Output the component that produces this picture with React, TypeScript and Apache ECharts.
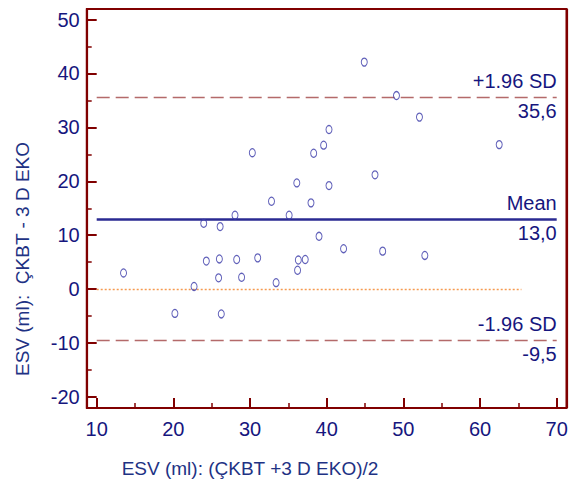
import React, { useEffect, useRef } from "react";
import * as echarts from "echarts";

// Bland-Altman data: average of the two methods (x) and their difference (y)
const averages = [
  13.5, 20.2, 22.7, 23.96, 24.3, 26.0, 25.9, 26.1, 26.25, 28.04, 28.26, 28.9,
  30.3, 31.0, 32.8, 33.4, 35.1, 36.1, 36.3, 36.2, 37.2, 37.95, 38.3, 39.0,
  39.6, 40.3, 40.3, 42.2, 44.9, 46.3, 47.3, 49.1, 52.1, 52.8, 62.5,
];
const differences = [
  3.0, -4.5, 0.5, 12.2, 5.2, 5.6, 2.1, 11.6, -4.6, 13.7, 5.5, 2.2,
  25.3, 5.8, 16.3, 1.2, 13.7, 19.7, 5.4, 3.5, 5.5, 16.0, 25.2, 9.8,
  26.7, 19.2, 29.6, 7.5, 42.1, 21.2, 7.05, 35.9, 31.9, 6.25, 26.8,
];
const meanDiff = 13.0;
const upperLimit = 35.6;
const lowerLimit = -9.5;
const lineLabels = ["+1.96 SD", "Mean", "-1.96 SD"];
const zeroLineSpan = [10, 65.4];
const limitLineSpan = [10, 70];
const xTicks = [10, 20, 30, 40, 50, 60, 70];
const xMinorTicks = [15, 25, 35, 45, 55, 65];
const yTicks = [-20, -10, 0, 10, 20, 30, 40, 50];
const yMinorTicks = [-15, -5, 5, 15, 25, 35, 45];
// axis extents of the framed plot box (frame sits a little outside the tick range)
const xExtent = [8.696, 71.304];
const yExtent = [-22.04, 51.95];
const xTitle = "ESV (ml): (ÇKBT +3 D EKO)/2";
const yTitle = "ESV (ml):  ÇKBT - 3 D EKO";

const AXIS = "#800000";
const NAVY = "#16167e";
const TITLE = "#1e3284";
const FONT = "Arial, 'Liberation Sans', Helvetica, sans-serif";
const CLEAR = "rgba(0,0,0,0)";

const GRID = { left: 86.7, right: 12.3, top: 9, bottom: 74 };

const fmt = (v: number) => v.toFixed(1).replace(".", ",");

export default function App() {
  const ref = useRef<HTMLDivElement>(null);
  useEffect(() => {
    if (!ref.current) return;
    const chart = echarts.init(ref.current, undefined, { renderer: "svg" });
    const points = averages.map((a, i) => [a, differences[i]]);
    const label = { color: NAVY, fontSize: 20, fontFamily: FONT };
    const base = (ext: number[], position: string) => ({
      type: "value",
      position,
      min: ext[0],
      max: ext[1],
      splitLine: { show: false },
      minorSplitLine: { show: false },
      minorTick: { show: false },
    });
    const tickAxis = (ext: number[], position: string, values: number[], len: number, w: number, lbl: any) => ({
      ...base(ext, position),
      axisLine: { show: false, onZero: false },
      axisTick: { show: true, inside: true, length: len, customValues: values, lineStyle: { color: AXIS, width: w } },
      axisLabel: lbl ? { ...lbl, customValues: values } : { show: false },
    });
    const sdLine = { color: "#b46a6a", width: 1.3, type: [13, 6] as any };
    const zeroLine = { color: "#f59a50", width: 1.4, type: [2, 2] as any };
    const meanLine = { color: "#2a2a92", width: 2.5, type: "solid" };
    const frameLine = { color: AXIS, width: 2.2, type: "solid" };
    const hidden = { color: CLEAR, width: 1 };
    const pair = (v: number, style: any, text: string, position: string, dist: number) => [
      { coord: [limitLineSpan[0], v], lineStyle: style, label: { ...label, position, formatter: text, distance: [0, dist] } },
      { coord: [limitLineSpan[1], v] },
    ];
    const e = 0.02;
    const x0 = xExtent[0] + e, x1 = xExtent[1] - e, y0 = yExtent[0] + e, y1 = yExtent[1] - e;
    const seg = (a: number[], b: number[]) => [
      { coord: a, lineStyle: frameLine, label: { show: false } },
      { coord: b },
    ];
    chart.setOption({
      animation: false,
      backgroundColor: "#ffffff",
      grid: [{ ...GRID, containLabel: false }],
      xAxis: [
        tickAxis(xExtent, "bottom", xTicks, 10, 2, { ...label, margin: 11 }),
        tickAxis(xExtent, "bottom", xMinorTicks, 5, 1.5, null),
      ],
      yAxis: [
        tickAxis(yExtent, "left", yTicks, 10, 2, { ...label, margin: 7 }),
        tickAxis(yExtent, "left", yMinorTicks, 5, 1.5, null),
      ],
      series: [
        {
          type: "scatter",
          xAxisIndex: 0,
          yAxisIndex: 0,
          data: points,
          symbol: "circle",
          symbolSize: [6, 8],
          z: 5,
          itemStyle: { color: CLEAR, borderColor: "#3838a8", borderWidth: 1.1 },
          markArea: {
            silent: true,
            itemStyle: { color: CLEAR, borderColor: AXIS, borderWidth: 2 },
            label: { show: false },
            data: [[{ coord: [x0, y0] }, { coord: [x1, y1] }]],
          },
          markLine: {
            silent: true,
            symbol: ["none", "none"],
            animation: false,
            data: [
              seg([x0, y0], [x0, y1]),
              seg([x0, y0], [x1, y0]),
              seg([x1, y0], [x1, y1]),
              seg([x0, y1], [x1, y1]),
              pair(upperLimit, sdLine, lineLabels[0], "insideEndTop", 6),
              pair(upperLimit, hidden, fmt(upperLimit), "insideEndBottom", 4),
              pair(meanDiff, meanLine, lineLabels[1], "insideEndTop", 6),
              pair(meanDiff, hidden, fmt(meanDiff), "insideEndBottom", 4),
              pair(lowerLimit, sdLine, lineLabels[2], "insideEndTop", 6),
              pair(lowerLimit, hidden, fmt(lowerLimit), "insideEndBottom", 4),
              [
                { coord: [zeroLineSpan[0], 0], lineStyle: zeroLine, label: { show: false } },
                { coord: [zeroLineSpan[1], 0] },
              ],
            ],
          },
        },
      ],
      graphic: {
        elements: [
          {
            type: "text",
            x: 250,
            y: 468,
            style: { text: xTitle, fill: TITLE, fontSize: 19, fontFamily: FONT, align: "center", verticalAlign: "middle" },
          },
          {
            type: "text",
            x: 22,
            y: 259,
            rotation: Math.PI / 2,
            style: { text: yTitle, fill: TITLE, fontSize: 19, fontFamily: FONT, align: "center", verticalAlign: "middle" },
          },
        ],
      },
    });
    return () => chart.dispose();
  }, []);
  return (
    <div
      ref={ref}
      style={{ position: "fixed", left: 0, top: 0, width: 579, height: 482, background: "#fff" }}
    />
  );
}
